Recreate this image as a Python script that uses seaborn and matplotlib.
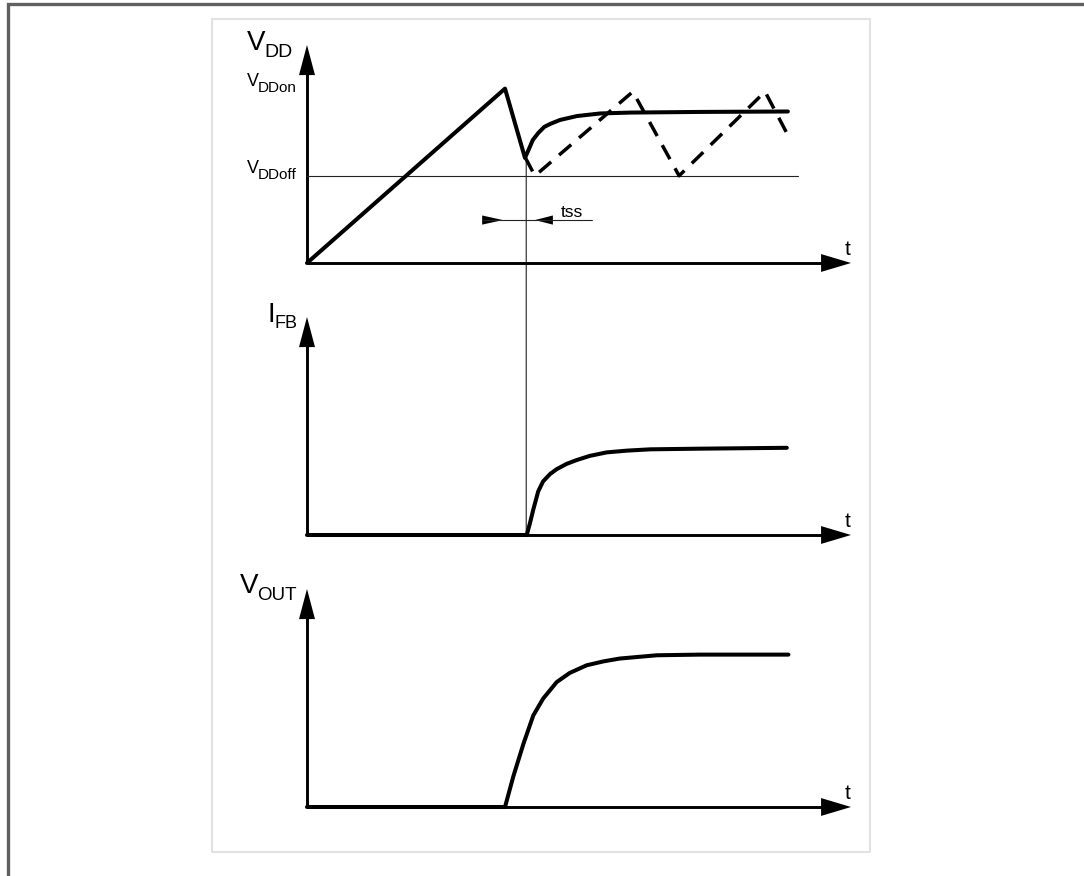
import matplotlib
matplotlib.use("Agg")
import matplotlib.pyplot as plt
import seaborn as sns
from matplotlib.patches import ConnectionPatch

# waveform data (t: 0..100 along the time axis, y: 0..10 up the arrow)
vdd_t = [0, 36.4, 40.07, 40.8, 41.5, 42.5, 43.6, 44.7, 46.5, 49.6, 53.9, 59.4, 72.2, 88.4]
vdd_v = [0, 8.0, 4.82, 5.23, 5.64, 5.96, 6.24, 6.38, 6.56, 6.74, 6.86, 6.90, 6.93, 6.95]
vdd_dash_t = [40.1, 41.9, 59.9, 68.4, 84.2, 88.2]
vdd_dash_v = [4.85, 4.0, 7.86, 4.0, 7.86, 5.96]
vdd_off = 4.0
vdd_off_end = 90.3

ifb_t = [0, 40.4, 41.0, 41.6, 42.5, 43.4, 44.7, 45.9, 47.7, 49.6, 52.0, 55.1, 58.8, 63.1, 72.3, 88.2]
ifb_v = [0, 0, 0.56, 1.17, 2.0, 2.46, 2.8, 3.02, 3.26, 3.44, 3.63, 3.79, 3.87, 3.93, 3.96, 4.0]

vout_t = [0, 36.4, 37.9, 39.8, 41.6, 43.4, 45.9, 48.3, 51.4, 54.5, 57.5, 64.3, 72.2, 88.5]
vout_v = [0, 0, 1.38, 2.91, 4.2, 4.97, 5.73, 6.15, 6.5, 6.68, 6.81, 6.96, 6.99, 6.99]

tss_start = 36.0
tss_end = 41.9

sns.set_style("white")
plt.rcParams['font.family'] = ['Liberation Sans', 'DejaVu Sans']

W, H = 1084, 876
fig = plt.figure(figsize=(W / 100, H / 100), dpi=100)

# background layer in pixel coordinates
bg = fig.add_axes([0, 0, 1, 1], zorder=0)
bg.set_xlim(0, W)
bg.set_ylim(H, 0)
bg.axis('off')
bg.plot([8, 8, W], [H, 4, 4], color='#606060', lw=2.4, solid_joinstyle='miter')
bg.plot([212, 870, 870, 212, 212], [19, 19, 852, 852, 19], color='#e2e2e2', lw=1.5)

LW = 2.9      # waveform
AX_LW = 2.1   # axis lines
THIN = 0.8
K = 'black'


def panel(base_px):
    ax = fig.add_axes([307 / W, (H - base_px) / H, 544 / W, 218 / H], zorder=2)
    ax.set_xlim(0, 100)
    ax.set_ylim(0, 10)
    ax.axis('off')
    ax.plot([0, 0], [0, 9], color=K, lw=AX_LW, clip_on=False, solid_capstyle='butt')
    ax.plot([0, 96], [0, 0], color=K, lw=AX_LW, clip_on=False, solid_capstyle='butt')
    ax.fill([-1.47, 0, 1.47], [8.62, 10, 8.62], color=K, clip_on=False, lw=0)
    ax.fill([94.5, 100, 94.5], [0.41, 0, -0.41], color=K, clip_on=False, lw=0)
    return ax


ax0 = panel(263)
ax1 = panel(535)
ax2 = panel(807)

# V_DD panel
ax0.plot([0, vdd_off_end], [vdd_off, vdd_off], color='#222222', lw=THIN)
sns.lineplot(x=vdd_t, y=vdd_v, ax=ax0, color=K, linewidth=LW, sort=False,
             estimator=None, legend=False)
sns.lineplot(x=vdd_dash_t, y=vdd_dash_v, ax=ax0, color=K, linewidth=2.5, sort=False,
             estimator=None, legend=False, linestyle=(0, (4.6, 3.0)))
ax0.set_xlim(0, 100)
ax0.set_ylim(0, 10)

# tss marker
ax0.plot([32.2, 52.4], [1.97, 1.97], color='#222222', lw=THIN)
ax0.fill([32.2, tss_start, 32.2], [2.18, 1.97, 1.76], color=K, lw=0)
ax0.fill([45.2, tss_end, 45.2], [2.18, 1.97, 1.76], color=K, lw=0)

# I_FB panel
sns.lineplot(x=ifb_t, y=ifb_v, ax=ax1, color=K, linewidth=LW, estimator=None,
             legend=False)
ax1.set_xlim(0, 100)
ax1.set_ylim(0, 10)

# V_OUT panel
sns.lineplot(x=vout_t, y=vout_v, ax=ax2, color=K, linewidth=LW, estimator=None,
             legend=False)
ax2.set_xlim(0, 100)
ax2.set_ylim(0, 10)

for ax in (ax0, ax1, ax2):
    for ln in ax.lines:
        ln.set_clip_on(False)
        ln.set_solid_joinstyle('round')

# vertical marker from the V_DD dip down to the I_FB start
con = ConnectionPatch(xyA=(40.3, vdd_v[2]), coordsA='data', axesA=ax0,
                      xyB=(40.3, 0), coordsB='data', axesB=ax1,
                      color='#222222', lw=THIN)
fig.add_artist(con)


# labels (pixel coordinates): subscript right-aligned at x_end, main letter before it
def lab(x, y, s, size):
    return bg.text(x, y, s, fontsize=size, va='baseline', ha='left', color=K)


def sub_label(main, sub, x_end, y_main, y_sub, s_main, s_sub):
    t_sub = bg.text(x_end, y_sub, sub, fontsize=s_sub, va='baseline', ha='right', color=K)
    fig.canvas.draw()
    bb = t_sub.get_window_extent().transformed(bg.transData.inverted())
    x0 = min(bb.x0, bb.x1)
    bg.text(x0 + 0.5, y_main, main, fontsize=s_main, va='baseline', ha='right', color=K)


sub_label('V', 'DD', 293, 50, 57, 20, 14)
sub_label('V', 'DDon', 297, 86, 92, 13, 11)
sub_label('V', 'DDoff', 297, 173, 179, 13, 11)
sub_label('I', 'FB', 298, 322, 328, 20, 13)
sub_label('V', 'OUT', 297, 593, 600, 20, 13.5)
lab(561, 217, 'tss', 12.5)
for yb in (255, 527, 799):
    lab(845, yb, 't', 15)

fig.savefig('out.png', dpi=100)
